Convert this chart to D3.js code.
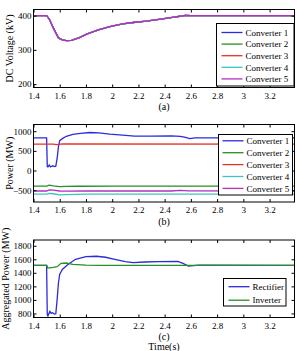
<!DOCTYPE html>
<html>
<head>
<meta charset="utf-8">
<script src="https://cdn.jsdelivr.net/npm/d3@7"></script>
<style>
  body { margin: 0; background: #fff; }
  svg text { font-family: "Liberation Serif", "Times New Roman", serif; fill: #000; }
</style>
</head>
<body>
<div id="chart"></div>
<script>
var W = 297, H = 351;

// x ticks shared by all panels
var xTicks = [1.4, 1.6, 1.8, 2, 2.2, 2.4, 2.6, 2.8, 3, 3.2];

// (a) DC voltage, all five converters overlap
var tVolt = [1.4, 1.5, 1.52, 1.55, 1.59, 1.62, 1.65, 1.69, 1.75, 1.81, 1.9, 1.99, 2.08, 2.16, 2.26, 2.37, 2.46, 2.53, 2.56, 2.6, 3.39];
var vConv = [400, 400, 390, 365, 335, 329, 327, 328, 336, 347, 359, 369, 376, 380, 384, 390, 395, 399, 401, 400, 400];
var convNames = ["Converter 1", "Converter 2", "Converter 3", "Converter 4", "Converter 5"];
var voltTicks = [200, 300, 400];

// (b) converter power
var tP1 = [1.4, 1.5, 1.505, 1.51, 1.52, 1.53, 1.545, 1.56, 1.57, 1.58, 1.59, 1.6, 1.62, 1.65, 1.7, 1.76, 1.83, 1.9, 1.98, 2.08, 2.17, 2.3, 2.45, 2.52, 2.56, 2.59, 2.63, 2.7, 3.39];
var p1 = [830, 830, 100, 90, 140, 90, 120, 100, 110, 300, 600, 760, 810, 870, 920, 945, 966, 955, 925, 900, 875, 875, 880, 870, 840, 810, 830, 830, 830];
var tP2 = [1.4, 1.5, 1.52, 1.55, 1.6, 1.65, 1.75, 2.0, 3.39];
var p2 = [-395, -395, -370, -390, -410, -405, -400, -395, -395];
var tP3 = [1.4, 1.55, 1.58, 1.62, 3.39];
var p3 = [670, 670, 660, 675, 670];
var tP4 = [1.4, 1.5, 1.52, 1.55, 1.6, 1.65, 1.8, 3.39];
var p4 = [-600, -600, -580, -590, -620, -610, -600, -600];
var tP5 = [1.4, 1.5, 1.52, 1.55, 1.6, 1.65, 1.8, 2.45, 2.52, 2.58, 3.39];
var p5 = [-520, -520, -490, -500, -520, -525, -520, -520, -505, -515, -520];
var powerTicks = [-500, 0, 500, 1000];

// (c) aggregated power
var tRect = [1.4, 1.5, 1.505, 1.51, 1.525, 1.535, 1.545, 1.56, 1.57, 1.58, 1.59, 1.6, 1.62, 1.66, 1.72, 1.8, 1.88, 1.95, 2.02, 2.1, 2.16, 2.25, 2.35, 2.5, 2.54, 2.58, 2.62, 2.66, 2.71, 3.39];
var rect = [1510, 1510, 780, 765, 830, 800, 810, 790, 795, 1000, 1250, 1380, 1450, 1520, 1600, 1640, 1645, 1630, 1600, 1565, 1550, 1560, 1565, 1570, 1540, 1500, 1505, 1515, 1515, 1510];
var tInv = [1.4, 1.5, 1.51, 1.55, 1.58, 1.61, 1.65, 1.7, 1.8, 1.9, 3.39];
var inv = [1510, 1510, 1470, 1480, 1490, 1540, 1545, 1525, 1515, 1510, 1510];
var aggNames = ["Rectifier", "Inverter"];
var aggTicks = [800, 1000, 1200, 1400, 1600, 1800];

var colors = ["#2b2bd9", "#259025", "#e8302a", "#3cc4c4", "#b52fc4"];

var svg = d3.select("#chart").append("svg")
    .attr("width", W)
    .attr("height", H);

var left = 33.5, right = 294.5;
var x = d3.scaleLinear().domain([1.4, 3.39]).range([left, right]);

function zip(t, v) {
  return t.map(function(d, i) { return [d, v[i]]; });
}

function panel(top, bottom, yDomain, yTicks, series, names, legendBox, ylabel, sub, ylabelX) {
  var y = d3.scaleLinear().domain(yDomain).range([bottom, top]);
  var g = svg.append("g");
  var line = d3.line().x(function(d) { return x(d[0]); }).y(function(d) { return y(d[1]); });

  g.append("defs").append("clipPath").attr("id", "clip" + top)
   .append("rect").attr("x", left).attr("y", top).attr("width", right - left).attr("height", bottom - top);

  series.forEach(function(s) {
    g.append("path")
     .attr("clip-path", "url(#clip" + top + ")")
     .attr("d", line(s.data))
     .attr("fill", "none")
     .attr("stroke", s.color)
     .attr("stroke-width", 1.3);
  });

  // box + inward ticks on all sides
  g.append("rect").attr("x", left).attr("y", top).attr("width", right - left).attr("height", bottom - top)
   .attr("fill", "none").attr("stroke", "#000").attr("stroke-width", 1);

  g.append("g").attr("transform", "translate(0," + bottom + ")")
   .call(d3.axisBottom(x).tickValues(xTicks).tickSize(-3).tickPadding(5).tickFormat(d3.format("")))
   .call(function(a) { a.select(".domain").remove(); a.selectAll("text").attr("font-size", 9); });
  g.append("g").attr("transform", "translate(0," + top + ")")
   .call(d3.axisTop(x).tickValues(xTicks).tickSize(-3).tickFormat(""))
   .call(function(a) { a.select(".domain").remove(); });
  g.append("g").attr("transform", "translate(" + left + ",0)")
   .call(d3.axisLeft(y).tickValues(yTicks).tickSize(-3).tickPadding(2).tickFormat(d3.format("d")))
   .call(function(a) { a.select(".domain").remove(); a.selectAll("text").attr("font-size", 9); });
  g.append("g").attr("transform", "translate(" + right + ",0)")
   .call(d3.axisRight(y).tickValues(yTicks).tickSize(-3).tickFormat(""))
   .call(function(a) { a.select(".domain").remove(); });

  // legend
  var lg = g.append("g");
  lg.append("rect").attr("x", legendBox.x).attr("y", legendBox.y)
    .attr("width", legendBox.w).attr("height", legendBox.h)
    .attr("fill", "#fff").attr("stroke", "#000").attr("stroke-width", 1);
  names.forEach(function(n, i) {
    var yy = legendBox.y + legendBox.first + i * legendBox.step;
    lg.append("line").attr("x1", legendBox.x + legendBox.l0).attr("x2", legendBox.x + legendBox.l1)
      .attr("y1", yy).attr("y2", yy).attr("stroke", series[i].color).attr("stroke-width", 1.3);
    lg.append("text").attr("x", legendBox.x + legendBox.l1 + 3).attr("y", yy + 3.2)
      .attr("font-size", 9).text(n);
  });

  g.append("text")
   .attr("transform", "translate(" + ylabelX + "," + ((top + bottom) / 2) + ") rotate(-90)")
   .attr("text-anchor", "middle").attr("font-size", 10).text(ylabel);

  g.append("text").attr("x", (left + right) / 2).attr("y", bottom + 22.5)
   .attr("text-anchor", "middle").attr("font-size", 10).text(sub);
}

// (a)
panel(9.5, 87.5, [190, 418], voltTicks,
  convNames.map(function(n, i) { return { data: zip(tVolt, vConv), color: colors[i] }; }),
  convNames,
  { x: 216.5, y: 23.5, w: 77.5, h: 62.5, first: 9, step: 11.6, l0: 5, l1: 26 },
  "DC Voltage (kV)", "(a)", 13);

// (b)
panel(124.5, 202, [-800, 1170], powerTicks,
  [{ data: zip(tP1, p1), color: colors[0] }, { data: zip(tP2, p2), color: colors[1] },
   { data: zip(tP3, p3), color: colors[2] }, { data: zip(tP4, p4), color: colors[3] },
   { data: zip(tP5, p5), color: colors[4] }],
  convNames,
  { x: 218.5, y: 134.5, w: 74, h: 60.5, first: 6.3, step: 11.9, l0: 4, l1: 25 },
  "Power (MW)", "(b)", 13);

// (c)
panel(240, 317.5, [740, 1885], aggTicks,
  [{ data: zip(tRect, rect), color: colors[0] }, { data: zip(tInv, inv), color: colors[1] }],
  aggNames,
  { x: 223.5, y: 278.5, w: 62.5, h: 27.5, first: 8.2, step: 13.5, l0: 5, l1: 26 },
  "Aggregated Power (MW)", "(c)", 8.5);

svg.append("text").attr("x", (left + right) / 2).attr("y", 350)
   .attr("text-anchor", "middle").attr("font-size", 10).text("Time(s)");
</script>
</body>
</html>
